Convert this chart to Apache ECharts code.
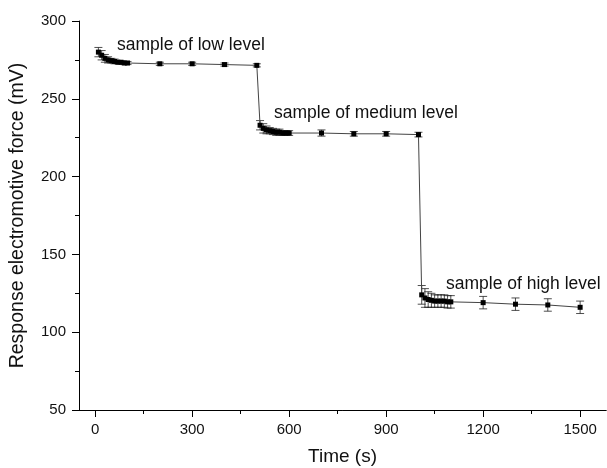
<!DOCTYPE html>
<html>
<head>
<meta charset="utf-8">
<script src="https://cdn.jsdelivr.net/npm/echarts@6/dist/echarts.min.js"></script>
<style>html,body{margin:0;padding:0;background:#fff}#c{width:607px;height:468px}</style>
</head>
<body>
<div id="c"></div>
<script>
// ---- data ----
var timeLow  = [10,20,30,40,50,60,70,80,90,100,200,300,400,500];
var emfLow   = [280,278,276,275,274.5,274,273.5,273.5,273,273,272.5,272.5,272,271.5];
var errLow   = [3,3,2.5,2,1.5,1.5,1,1,1,1,1,1,1,1];
var timeMed  = [510,520,530,540,550,560,570,580,590,600,700,800,900,1000];
var emfMed   = [233,231,230,229.5,229,228.5,228.5,228,228,228,228,227.5,227.5,227];
var errMed   = [3,3,2.5,2,2,2,2,1.5,1.5,1.5,2,1.5,1.5,1.5];
var timeHigh = [1010,1020,1030,1040,1050,1060,1070,1080,1090,1100,1200,1300,1400,1500];
var emfHigh  = [124,122,121,120.5,120,120,120,120,119.5,119.5,119,118,117.5,116];
var errHigh  = [6,6,5,4.5,4,4,4,4,4,4,4,4,4,4];
var xMajorTicks = [0,300,600,900,1200,1500];
var xMinorTicks = [150,450,750,1050,1350];
var labels = ['sample of low level','sample of medium level','sample of high level'];

var times = timeLow.concat(timeMed, timeHigh);
var emf = emfLow.concat(emfMed, emfHigh);
var errs = errLow.concat(errMed, errHigh);
var lineData = times.map(function(t,i){return [t, emf[i]];});
var errData = times.map(function(t,i){return [t, emf[i], errs[i]];});

var font = 'Liberation Sans, Arial, sans-serif';
var chart = echarts.init(document.getElementById('c'), null, {renderer:'canvas'});
chart.setOption({
  animation:false,
  backgroundColor:'#fff',
  grid:{left:79, top:21, right:1, bottom:58, containLabel:false, outerBoundsMode:'none'},
  xAxis:[{
    type:'value', min:-50, max:1580,
    name:'Time (s)', nameLocation:'middle', nameGap:37,
    nameTextStyle:{fontFamily:font, fontSize:19, color:'#111'},
    axisLine:{onZero:false, lineStyle:{color:'#000', width:1}},
    axisTick:{customValues:xMajorTicks, length:7, lineStyle:{color:'#000'}},
    axisLabel:{customValues:xMajorTicks, fontFamily:font, fontSize:15, color:'#111', margin:12,
      formatter:function(v){return String(v);}},
    splitLine:{show:false}
  },{
    type:'value', min:-50, max:1580, position:'bottom',
    axisLine:{show:true, onZero:false, lineStyle:{color:'#000', width:1}},
    axisTick:{show:true, customValues:xMinorTicks, length:4, lineStyle:{color:'#000'}},
    axisLabel:{show:true, customValues:xMinorTicks, formatter:function(){return '';}},
    splitLine:{show:false}
  }],
  yAxis:{
    type:'value', min:50, max:300, interval:50,
    name:'Response electromotive force (mV)', nameLocation:'middle', nameGap:51,
    nameTextStyle:{fontFamily:font, fontSize:19.5, color:'#111'},
    axisLine:{show:true, onZero:false, lineStyle:{color:'#000', width:1}},
    axisTick:{show:true, length:7, lineStyle:{color:'#000'}},
    minorTick:{show:true, splitNumber:2, length:4, lineStyle:{color:'#000'}},
    axisLabel:{fontFamily:font, fontSize:15, color:'#111', margin:13},
    splitLine:{show:false}
  },
  series:[{
    type:'custom',
    xAxisIndex:0,
    data:errData,
    renderItem:function(params, api){
      var x = api.value(0), y = api.value(1), e = api.value(2);
      var top = api.coord([x, y+e]);
      var bot = api.coord([x, y-e]);
      var hw = 4;
      var st = {stroke:'#222', lineWidth:0.8};
      return {type:'group', children:[
        {type:'line', shape:{x1:top[0], y1:top[1], x2:bot[0], y2:bot[1]}, style:st},
        {type:'line', shape:{x1:top[0]-hw, y1:top[1], x2:top[0]+hw, y2:top[1]}, style:st},
        {type:'line', shape:{x1:bot[0]-hw, y1:bot[1], x2:bot[0]+hw, y2:bot[1]}, style:st}
      ]};
    },
    z:2
  },{
    type:'line',
    xAxisIndex:0,
    data:lineData,
    symbol:'rect', symbolSize:5,
    lineStyle:{color:'#444', width:1},
    itemStyle:{color:'#000'},
    z:3
  }],
  graphic:[
    {type:'text', left:117, top:36, style:{text:labels[0], font:'17.5px '+font, fill:'#111'}},
    {type:'text', left:274, top:104, style:{text:labels[1], font:'17.5px '+font, fill:'#111'}},
    {type:'text', left:446, top:275, style:{text:labels[2], font:'17.5px '+font, fill:'#111'}}
  ]
});
</script>
</body>
</html>
